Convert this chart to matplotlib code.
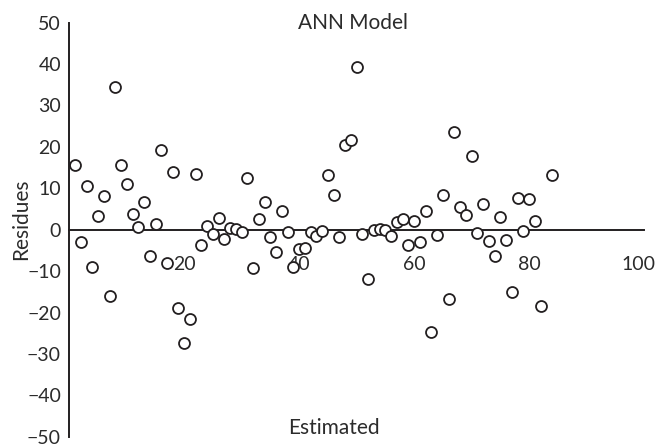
import matplotlib
matplotlib.use("Agg")
import matplotlib.pyplot as plt
import matplotlib.transforms as mtransforms

plt.rcParams['font.family'] = ['Lato', 'DejaVu Sans']

estimated = [1, 2, 3, 4, 5, 6, 7, 8, 9, 10,
             11, 12, 13, 14, 15, 16, 17, 18, 19, 20,
             21, 22, 23, 24, 25, 26, 27, 28, 29, 30,
             31, 32, 33, 34, 35, 36, 37, 38, 39, 40,
             41, 42, 43, 44, 45, 46, 47, 48, 49, 50,
             51, 52, 53, 54, 55, 56, 57, 58, 59, 60,
             61, 62, 63, 64, 65, 66, 67, 68, 69, 70,
             71, 72, 73, 74, 75, 76, 77, 78, 79, 80,
             81, 82, 84]
residues = [15.6, -3.0, 10.5, -8.9, 3.3, 8.1, -15.9, 34.4, 15.6, 11.0,
            3.8, 0.7, 6.6, -6.3, 1.4, 19.2, -8.1, 13.9, -19.0, -27.3,
            -21.5, 13.4, -3.7, 0.8, -1.0, 2.9, -2.3, 0.5, 0.2, -0.5,
            12.4, -9.3, 2.7, 6.6, -1.8, -5.3, 4.4, -0.5, -9.0, -4.7,
            -4.3, -0.5, -1.5, -0.3, 13.1, 8.5, -1.8, 20.4, 21.6, 39.4,
            -1.1, -11.9, -0.1, 0.1, -0.1, -1.5, 1.9, 2.5, -3.7, 2.0,
            -3.0, 4.6, -24.6, -1.2, 8.3, -16.7, 23.7, 5.5, 3.6, 17.7,
            -0.9, 6.3, -2.8, -6.3, 3.1, -2.5, -15.0, 7.7, -0.2, 7.5,
            2.2, -18.5, 13.1]

x_ticks = [20, 40, 60, 80, 100]
y_ticks = [-50, -40, -30, -20, -10, 0, 10, 20, 30, 40, 50]
title = "ANN Model"
x_label = "Estimated"
y_label = "Residues"

ink = '#231f20'
text_ink = '#2b2b2b'
W, H = 659, 447
fig = plt.figure(figsize=(W / 100, H / 100), dpi=100)
ax = fig.add_axes([69.3 / W, 10.3 / H, (644 - 69.3) / W, (436.7 - 22.7) / H])

ax.scatter(estimated, residues, s=62, facecolors='white', edgecolors=ink,
           linewidths=1.3, zorder=3, clip_on=False)

ax.set_xlim(0, 100)
ax.set_ylim(-50, 50)
ax.spines['top'].set_visible(False)
ax.spines['right'].set_visible(False)
ax.spines['bottom'].set_position(('data', 0))
for s in ('left', 'bottom'):
    ax.spines[s].set_color(ink)
    ax.spines[s].set_linewidth(1.4)

ax.set_xticks(x_ticks)
ax.set_xticklabels([str(v) for v in x_ticks])
ax.set_yticks(y_ticks)
ax.set_yticklabels([str(v).replace('-', '\u2212') for v in y_ticks])
ax.tick_params(axis='x', length=0, pad=19, labelsize=14, labelcolor=text_ink)
ax.tick_params(axis='y', length=0, pad=6, labelsize=14, labelcolor=text_ink)

# the reference shifts the last x label slightly left so it stays inside
last = ax.get_xticklabels()[-1]
last.set_transform(last.get_transform() +
                   mtransforms.ScaledTranslation(-6 / 100, 0, fig.dpi_scale_trans))

fig.text(353.5 / W, 1 - 23 / H, title, ha='center', va='center',
         fontsize=15, color=text_ink)
fig.text(334 / W, 1 - 428 / H, x_label, ha='center', va='center',
         fontsize=15, color=text_ink)
fig.text(21 / W, 1 - 219 / H, y_label, ha='center', va='center',
         fontsize=15, color=text_ink, rotation=90)

fig.savefig('out.png', dpi=100)
